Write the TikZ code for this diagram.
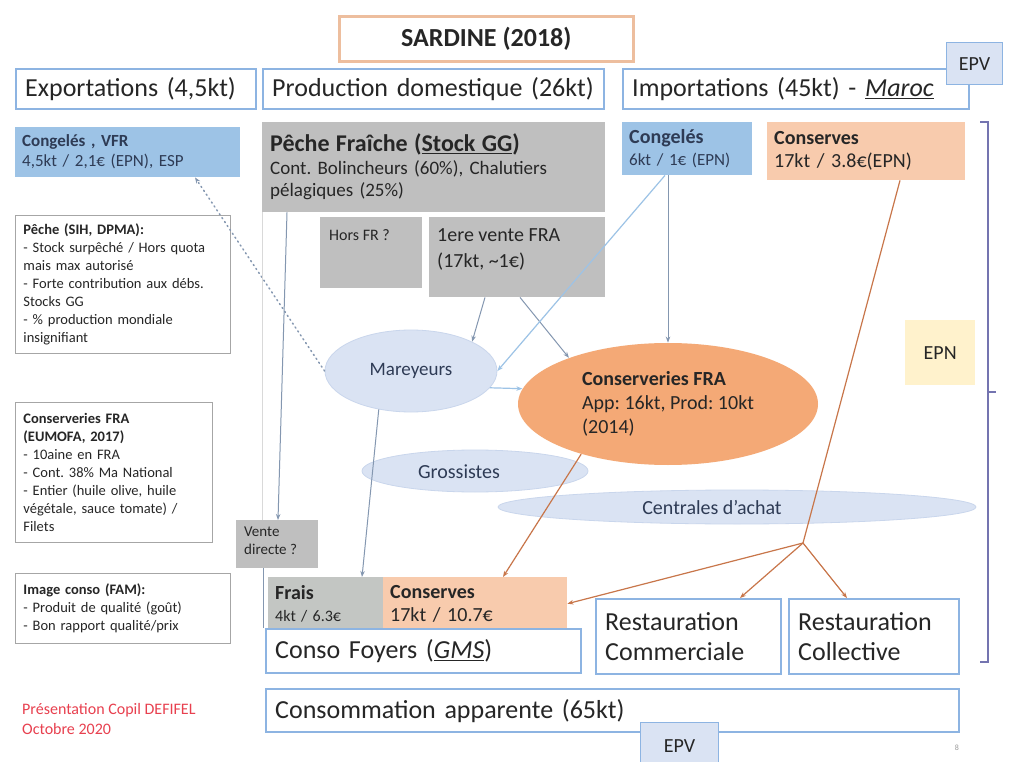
\documentclass[tikz,border=0pt]{standalone}
\usepackage{fontspec}
\setmainfont{Carlito}
\usetikzlibrary{arrows.meta,calc,shapes.geometric}
\definecolor{hdrblue}{HTML}{8DB4E2}
\definecolor{boxblue}{HTML}{9DC3E6}
\definecolor{paleblue}{HTML}{DAE3F3}
\definecolor{ellborder}{HTML}{C9D6EC}
\definecolor{grayfill}{HTML}{BFBFBF}
\definecolor{fraisgray}{HTML}{C3C6C3}
\definecolor{orfill}{HTML}{F8CBAD}
\definecolor{orell}{HTML}{F4A976}
\definecolor{yelfill}{HTML}{FFF2CC}
\definecolor{tanb}{HTML}{EDBE9E}
\definecolor{conncol}{HTML}{8497B0}
\definecolor{connlb}{HTML}{9DC3E6}
\definecolor{connor}{HTML}{C8764A}
\definecolor{brk}{HTML}{7474B0}
\definecolor{notebd}{HTML}{A6A6A6}
\definecolor{txt}{HTML}{262626}
\definecolor{navytxt}{HTML}{2E3B55}
\definecolor{redtxt}{HTML}{E8404F}
\newcommand{\fsz}[2]{\fontsize{#1}{#2}\selectfont}
\frenchspacing
\begin{document}
\begin{tikzpicture}[x=1pt,y=-1pt,
  every node/.style={text=txt},
  hdr/.style={draw=hdrblue, line width=2.4pt, fill=white, anchor=north west, align=left, inner xsep=9pt, inner ysep=0pt, font=\fsz{26}{31}},
  fbox/.style={anchor=north west, align=left, inner xsep=7pt, inner ysep=0pt},
  epvbox/.style={fill=paleblue, draw=hdrblue, line width=1.2pt, anchor=north west, font=\fsz{20}{24}, inner sep=0pt},
  note/.style={draw=notebd, line width=0.9pt, fill=white, anchor=north west, align=left, inner xsep=8pt, inner ysep=0pt, font=\fsz{14.5}{18}},
  ell/.style={ellipse, fill=paleblue, draw=ellborder, line width=0.8pt, inner sep=0pt},
  txtonly/.style={anchor=north west, inner sep=0pt, align=left},
  arr/.style={-{Stealth[length=6pt,width=4.5pt]}},
  connline/.style={draw=conncol, line width=1pt},
  lbline/.style={draw=connlb, line width=1.2pt},
  orline/.style={draw=connor, line width=1.2pt},
  dotline/.style={draw=conncol, line width=1.5pt, dash pattern=on 1.2pt off 3.5pt, line cap=round},
  faint/.style={draw=black!15, line width=0.8pt}
]
\fill[white] (0,0) rectangle (1010,762);
\useasboundingbox (0,0) rectangle (1010,762);

% title and headers
\node[draw=tanb, line width=2.6pt, fill=white, anchor=north west, minimum width=294, minimum height=45, font=\fsz{26}{30}\bfseries] (title) at (338,15) {SARDINE (2018)};
\node[hdr, text width=222, minimum height=40] (exp) at (15,68) {Exportations (4,5kt)};
\node[hdr, text width=323, minimum height=40] (prod) at (262,68) {Production domestique (26kt)};
\node[hdr, text width=328, minimum height=40] (imp) at (622,68) {Importations (45kt) - \underline{\textit{Maroc}}};
\node[epvbox, minimum width=56, minimum height=42] (epvt) at (946,42) {EPV};

% supply boxes
\node[fbox, fill=boxblue, text width=211, minimum height=50, font=\fsz{17}{20}, text=navytxt] (cvfr) at (15,127) {\textbf{Congelés , VFR}\\4,5kt / 2,1€ (EPN), ESP};
\node[fbox, fill=grayfill, text width=327, minimum height=90, inner xsep=8pt, font=\fsz{19}{22.5}] (pf) at (262,122) {{\fsz{24}{28}\bfseries Pêche Fraîche (\underline{Stock GG})}\\Cont. Bolincheurs (60\%), Chalutiers\\pélagiques (25\%)};
\node[fbox, fill=grayfill, minimum width=102, minimum height=71] (hfr) at (320,217) {};
\node[txtonly, font=\fsz{16}{19}] (hfrt) at (329,229) {Hors FR ?};
\node[fbox, fill=grayfill, minimum width=176, minimum height=80] (v1) at (429,217) {};
\node[txtonly, font=\fsz{20}{26}] (v1t) at (437,228) {1ere vente FRA\\(17kt, \textasciitilde1€)};
\node[fbox, fill=boxblue, text width=116, minimum height=53, font=\fsz{17}{22}, text=navytxt] (ci) at (622,122) {{\fsz{20}{22}\bfseries Congelés}\\6kt / 1€ (EPN)};
\node[fbox, fill=orfill, text width=184, minimum height=58, font=\fsz{20}{23}] (coi) at (767,122) {\textbf{Conserves}\\17kt / 3.8€(EPN)};
\node[fill=yelfill, anchor=north west, minimum width=70, minimum height=65, font=\fsz{20}{24}] (epn) at (905,320) {EPN};

% notes
\node[note, text width=199, minimum height=138] (n1) at (15,215) {\textbf{Pêche (SIH, DPMA):}\\- Stock surpêché / Hors quota\\mais max autorisé\\- Forte contribution aux débs.\\Stocks GG\\- \% production mondiale\\insignifiant};
\node[note, text width=181, minimum height=140] (n2) at (15,402) {\textbf{Conserveries FRA}\\\textbf{(EUMOFA, 2017)}\\- 10aine en FRA\\- Cont. 38\% Ma National\\- Entier (huile olive, huile\\végétale, sauce tomate) /\\Filets};
\node[note, text width=199, minimum height=70] (n3) at (15,573) {\textbf{Image conso (FAM):}\\- Produit de qualité (goût)\\- Bon rapport qualité/prix};
\node[txtonly, text=redtxt, font=\fsz{16}{20}] (pres) at (22,703) {Présentation Copil DEFIFEL\\Octobre 2020};

% ellipses
\node[ell, fill=orell, draw=none, minimum width=300, minimum height=122, align=left, font=\fsz{20}{24}] (cons) at (668,404) {\textbf{Conserveries FRA}\\App: 16kt, Prod: 10kt\\(2014)};
\node[ell, minimum width=172, minimum height=82, font=\fsz{19}{22}, text=navytxt] (mar) at (411,371) {Mareyeurs};
\node[ell, minimum width=226, minimum height=42] (gros) at (475,471) {};
\node[font=\fsz{20}{24}, inner sep=0pt, text=navytxt] (grost) at (459,472) {Grossistes};
\node[ell, minimum width=478, minimum height=34] (cent) at (737,507) {};
\node[font=\fsz{20}{24}, inner sep=0pt, text=navytxt] (centt) at (712,508) {Centrales d'achat};

% consumption
\node[fbox, fill=grayfill, minimum width=82, minimum height=48] (vd) at (236,520) {};
\node[txtonly, font=\fsz{15}{18}] (vdt) at (244,527) {Vente\\directe ?};
\node[fbox, fill=fraisgray, text width=101, minimum height=53, font=\fsz{16}{22}] (fr) at (268,577) {{\fsz{20}{22}\bfseries Frais}\\4kt / 6.3€};
\node[fbox, fill=orfill, text width=170, minimum height=53, font=\fsz{20}{23}] (cg) at (383,577) {\textbf{Conserves}\\17kt / 10.7€};
\node[hdr, text width=297, minimum height=44] (cf) at (265,628) {Conso Foyers (\underline{\textit{GMS}})};
\node[hdr, text width=167, minimum height=75, font=\fsz{26}{30}] (rc) at (595,598) {Restauration\\Commerciale};
\node[hdr, text width=152, minimum height=75, font=\fsz{26}{30}] (rcol) at (788,598) {Restauration\\Collective};
\node[hdr, text width=675, minimum height=43] (ca) at (265,688) {Consommation apparente (65kt)};
\node[epvbox, minimum width=78, minimum height=46] (epvb) at (640,722) {EPV};
\node[font=\fsz{8}{9}, text=black!40, inner sep=0pt] (pg) at (957,748) {8};

% EPN bracket
\draw[brk, line width=1.1pt] (980,122) -- (988,122) -- (988,662) -- (980,662);
\draw[brk, line width=1.1pt] (988,392) -- (996,392);

% connectors
\draw[dotline, arr] (mar.west) -- ([xshift=180]cvfr.south west);
\draw[faint] (pf.south west) -- ([xshift=26]vd.north west);
\draw[connline, arr] ([xshift=25]pf.south west) -- ([xshift=42]vd.north west);
\draw[connline] ([xshift=27]vd.south west) -- ([xshift=-2]cf.north west);
\draw[connline, arr] ([xshift=56]v1.south west) -- (mar.north east);
\draw[connline, arr] ([xshift=91]v1.south west) -- (cons.155);
\draw[connline, arr] (cons.north |- ci.south) -- (cons.north);
\draw[lbline, arr] ([xshift=43]ci.south west) -- (mar.east);
\draw[lbline, arr] (mar.-12) -- (cons.174);
\draw[connline, arr] (mar.-130) -- ([xshift=94]fr.north west);
\draw[orline, arr] (cons.-150) -- ([xshift=120]cg.north west);
\coordinate (hub) at (803,543);
\draw[orline] ([xshift=133]coi.south west) -- (hub);
\draw[orline, arr] (hub) -- (cg.east);
\draw[orline, arr] (hub) -- ([xshift=145]rc.north west);
\draw[orline, arr] (hub) -- ([xshift=59]rcol.north west);
\end{tikzpicture}
\end{document}
